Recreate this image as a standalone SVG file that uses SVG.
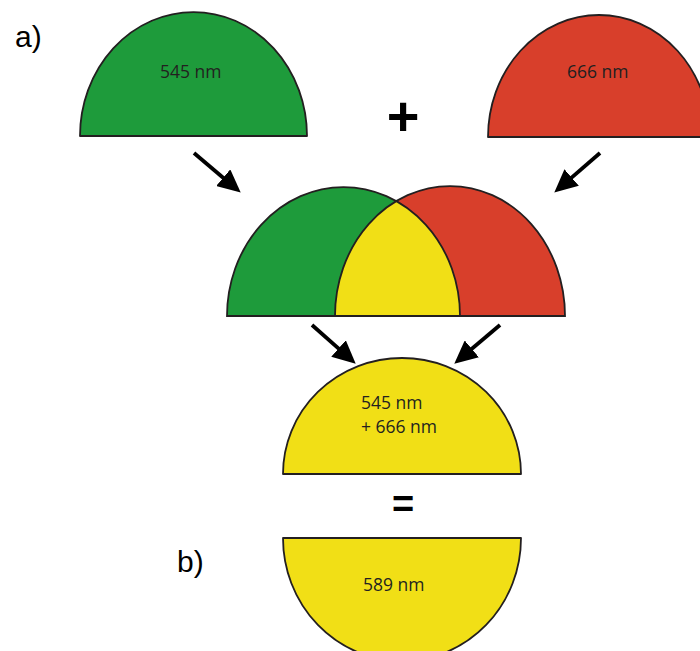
<svg xmlns="http://www.w3.org/2000/svg" width="700" height="651" viewBox="0 0 700 651">
  <style>
    .dome { stroke: #231f20; stroke-width: 1.8; stroke-linejoin: round; }
    .green { fill: #1e9b3b; }
    .red { fill: #d83f2b; }
    .yellow { fill: #f1df16; }
    .outline { fill: none; stroke: #231f20; stroke-width: 1.8; }
    .lbl { font-family: "Open Sans", "Liberation Sans", sans-serif; font-size: 17.5px; fill: #231f20; }
    .panel { font-family: "Liberation Sans", Arial, sans-serif; font-size: 30px; fill: #000; }
    .arrow { stroke: #000; stroke-width: 3.8; fill: none; marker-end: url(#head); }
  </style>
  <defs>
    <marker id="head" markerUnits="userSpaceOnUse" markerWidth="24" markerHeight="22" viewBox="0 0 24 22" refX="10" refY="11" orient="auto">
      <path d="M0,0 L23,11 L0,22 Z" fill="#000"/>
    </marker>
    <clipPath id="greenClip">
      <path d="M227,316 A116.5 129 0 0 1 460,316 Z"/>
    </clipPath>
  </defs>
  <rect width="700" height="651" fill="#fff"/>

  <text class="panel" x="15" y="47">a)</text>
  <text class="panel" x="177" y="572">b)</text>

  <g id="green-dome">
    <path class="dome green" d="M80,136 A113.5 124 0 0 1 307,136 Z"/>
    <text class="lbl" x="160" y="78">545 nm</text>
  </g>

  <g id="red-dome">
    <path class="dome red" d="M488,137 A111 122 0 0 1 710,137 Z"/>
    <text class="lbl" x="567" y="78">666 nm</text>
  </g>

  <g id="plus">
    <text x="403" y="135" text-anchor="middle" font-family="Liberation Sans, Arial, sans-serif" font-size="56" font-weight="bold" fill="#000">+</text>
  </g>

  <g id="overlap">
    <path class="green" d="M227,316 A116.5 129 0 0 1 460,316 Z"/>
    <path class="red" d="M335,316 A115 130 0 0 1 565,316 Z"/>
    <path class="yellow" clip-path="url(#greenClip)" d="M335,316 A115 130 0 0 1 565,316 Z"/>
    <path class="outline" d="M227,316 A116.5 129 0 0 1 460,316 Z"/>
    <path class="outline" d="M335,316 A115 130 0 0 1 565,316 Z"/>
  </g>

  <g id="sum-dome">
    <path class="dome yellow" d="M283,474 A119 116 0 0 1 521,474 Z"/>
    <text class="lbl" x="361" y="409">545 nm</text>
    <text class="lbl" x="361" y="433">+ 666 nm</text>
  </g>

  <g id="equals">
    <text x="403" y="517" text-anchor="middle" font-family="Liberation Sans, Arial, sans-serif" font-size="38" font-weight="bold" fill="#000">=</text>
  </g>

  <g id="result-dome">
    <path class="dome yellow" d="M283,538 A119 123 0 0 0 521,538 Z"/>
    <text class="lbl" x="363" y="591">589 nm</text>
  </g>

  <g id="connectors">
    <line class="arrow" x1="194" y1="153" x2="230.8" y2="184.2"/>
    <line class="arrow" x1="600" y1="153" x2="564.1" y2="184.1"/>
    <line class="arrow" x1="312" y1="325" x2="346" y2="355.1"/>
    <line class="arrow" x1="500" y1="325" x2="464.2" y2="355.3"/>
  </g>
</svg>
